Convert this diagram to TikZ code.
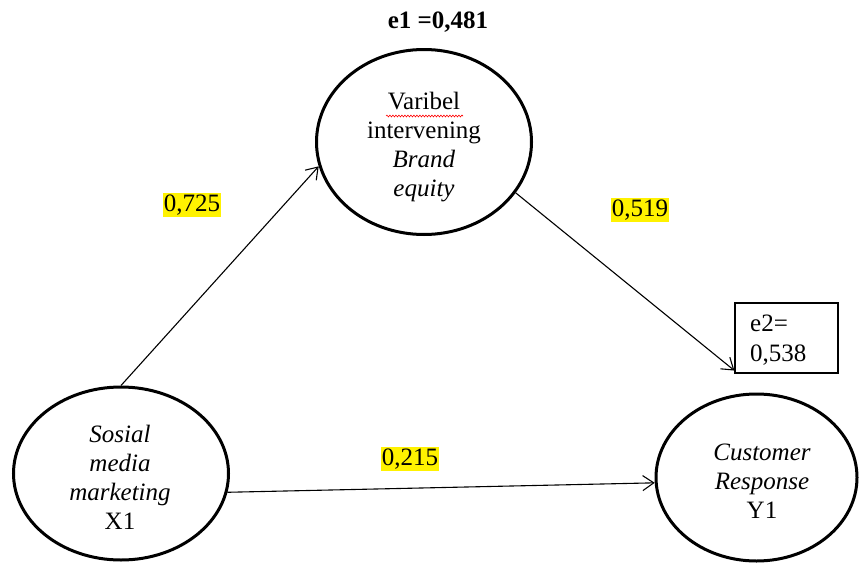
\documentclass[tikz,border=0pt]{standalone}
\usepackage{fontspec}
\setmainfont{Liberation Serif}
\usetikzlibrary{shapes.geometric,arrows.meta,decorations.pathmorphing}
\begin{document}
\begin{tikzpicture}[x=1pt,y=-1pt,
  latent/.style={ellipse, draw, line width=3pt, inner sep=0pt},
  lbl/.style={font=\fontsize{25}{29}\selectfont, align=center, inner sep=0pt},
  coef/.style={fill=yellow, font=\fontsize{25}{29}\selectfont, inner xsep=0.5pt, inner ysep=1pt, text height=17pt, text depth=5pt},
  link/.style={line width=1.1pt, -{Straight Barb[length=11pt,width=15pt,line width=1.1pt]}}
]
\path[use as bounding box] (0,0) rectangle (859,562);

% latent variables
\node[latent, minimum width=215pt, minimum height=185pt] (be)  at (424,142) {};
\node[latent, minimum width=215pt, minimum height=173pt] (sml) at (121,473.5) {};
\node[latent, minimum width=201pt, minimum height=167pt] (brc) at (756.5,477.5) {};

% variable names
\node[lbl] (bet)  at (424,147) {Varibel\\intervening\\\textit{Brand}\\\textit{equity}};
\node[lbl] (smlt) at (120,477) {\textit{Sosial}\\\textit{media}\\\textit{marketing}\\X1};
\node[lbl] (brct) at (762,481) {\textit{Customer}\\\textit{Response}\\Y1};

% spelling underline
\draw[red, line width=0.6pt, decorate, decoration={snake, amplitude=0.9pt, segment length=3pt}]
  (386,116) -- (463,116);

% residuals
\node[inner sep=0pt, font=\bfseries\fontsize{25}{29}\selectfont] (e1) at (438,22) {e1 =0,481};
\node[draw, line width=1.2pt, minimum width=103pt, minimum height=70pt, inner sep=0pt] (e2) at (786.5,338) {};
\node[lbl, align=left, anchor=west, font=\fontsize{25}{30}\selectfont] (e2t) at (750,340) {e2=\\0,538};

% path coefficients
\node[coef] (c1) at (192,205) {0,725};
\node[coef] (c2) at (640,210) {0,519};
\node[coef] (c3) at (410,459) {0,215};

% structural paths
\draw[link] (sml.north) -- (be.193);
\draw[link] (be.331) -- (e2.212);
\draw[link] (sml.-10) -- (brc.183);
\end{tikzpicture}
\end{document}
